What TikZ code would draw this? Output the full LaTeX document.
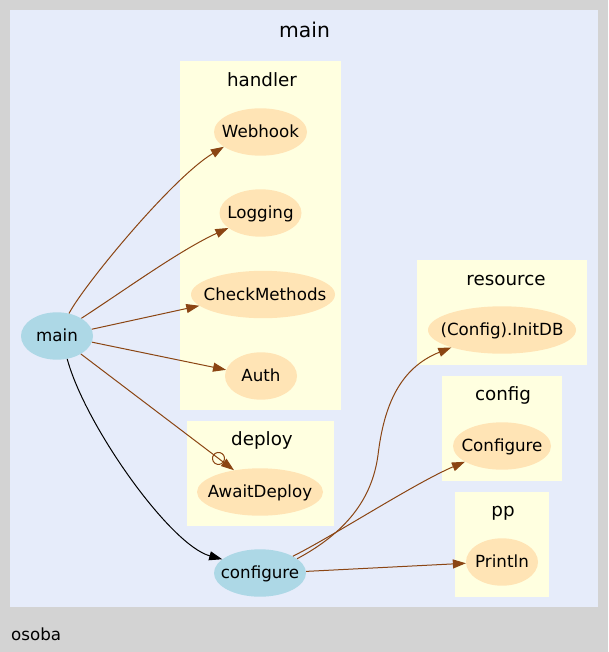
\documentclass[tikz,border=0pt]{standalone}
\usepackage{fontspec}
\setmainfont{DejaVu Sans}
\usetikzlibrary{arrows.meta,shapes.geometric}
\definecolor{bggray}{HTML}{D3D3D3}
\definecolor{focusbg}{HTML}{E6ECFA}
\definecolor{pkgbg}{HTML}{FFFFE0}
\definecolor{extnode}{HTML}{FFE4B5}
\definecolor{locnode}{HTML}{ADD8E6}
\definecolor{edgebrown}{HTML}{8B4513}
\tikzset{
  fn/.style={ellipse, inner sep=0pt, minimum height=47.4pt, draw=none},
  ext/.style={fn, fill=extnode},
  loc/.style={fn, fill=locnode},
  txt/.style={anchor=base, inner sep=0pt, font=\fontsize{16.7}{20}\selectfont},
  ctitle/.style={anchor=base, inner sep=0pt, font=\fontsize{18.3}{22}\selectfont},
  call/.style={draw=edgebrown, line width=1pt, -{Triangle[length=13pt,width=9pt]}},
  callin/.style={draw=black, line width=1pt, -{Triangle[length=13pt,width=9pt]}},
  gocall/.style={draw=edgebrown, line width=1pt, -{Circle[open,length=13pt,width=13pt] Triangle[length=13pt,width=9pt]}},
}
\begin{document}
\begin{tikzpicture}[x=1pt,y=-1pt]
\useasboundingbox (0,0) rectangle (608,652);
\fill[bggray] (0,0) rectangle (608,652);
% clusters
\fill[focusbg] (10,10) rectangle (598,607);
\fill[pkgbg] (180,61) rectangle (341,410);
\fill[pkgbg] (187,421) rectangle (334,526);
\fill[pkgbg] (417,260) rectangle (587,365);
\fill[pkgbg] (442,376) rectangle (562,481);
\fill[pkgbg] (455,492) rectangle (549,597);
% titles
\node[anchor=base, inner sep=0pt, font=\fontsize{20.3}{24}\selectfont] (tmain) at (304.5,38) {main};
\node[ctitle] (thandler) at (262,87) {handler};
\node[ctitle] (tdeploy) at (262,445.7) {deploy};
\node[ctitle] (tresource) at (506,285) {resource};
\node[ctitle] (tconfig) at (503,400.7) {config};
\node[ctitle] (tpp) at (503,516.7) {pp};
\node[txt, anchor=base west] (tosoba) at (11,640.7) {osoba};
% nodes
\node[loc, minimum width=72pt] (main) at (57,336) {};
\node[loc, minimum width=92pt] (configure) at (260,573) {};
\node[ext, minimum width=93pt] (webhook) at (260.5,132) {};
\node[ext, minimum width=82pt] (logging) at (260.5,213) {};
\node[ext, minimum width=144pt] (checkm) at (263,294.5) {};
\node[ext, minimum width=72pt] (auth) at (261,376) {};
\node[ext, minimum width=126pt] (await) at (260,492) {};
\node[ext, minimum width=148pt] (initdb) at (502,330) {};
\node[ext, minimum width=98pt] (cfgure) at (502,446) {};
\node[ext, minimum width=72pt] (println) at (502,562) {};
% node labels
\node[txt] (lmain) at (57,341.8) {main};
\node[txt] (lconfigure) at (260,578.8) {configure};
\node[txt] (lwebhook) at (260.5,137.8) {Webhook};
\node[txt] (llogging) at (260.5,218.8) {Logging};
\node[txt] (lcheckm) at (265,300.3) {CheckMethods};
\node[txt] (lauth) at (261,381.8) {Auth};
\node[txt] (lawait) at (260,497.8) {AwaitDeploy};
\node[txt] (linitdb) at (502,335.8) {(Config).InitDB};
\node[txt] (lcfgure) at (502,451.8) {Configure};
\node[txt] (lprintln) at (502,567.8) {Println};
% edges
\draw[call] (main.62) .. controls (84,285) and (172,178) .. (webhook.-158);
\draw[call] (main.36) .. controls (125,290) and (180,250) .. (logging.-155);
\draw[call] (main.11) -- (checkm.-170);
\draw[call] (main.-10) -- (auth.170);
\draw[gocall] (main.-37) -- (await.140.6);
\draw[callin] (main.-66.5) .. controls (85,425) and (170,545) .. (configure.160.3);
\draw[call] (configure.21.5) .. controls (345,533) and (372,500) .. (378,455)
  .. controls (384,405) and (400,368) .. (initdb.-161.6);
\draw[call] (configure.27) .. controls (335,535) and (415,483) .. (cfgure.-157.7);
\draw[call] (configure.2.4) -- (println.-178.5);
\end{tikzpicture}
\end{document}
